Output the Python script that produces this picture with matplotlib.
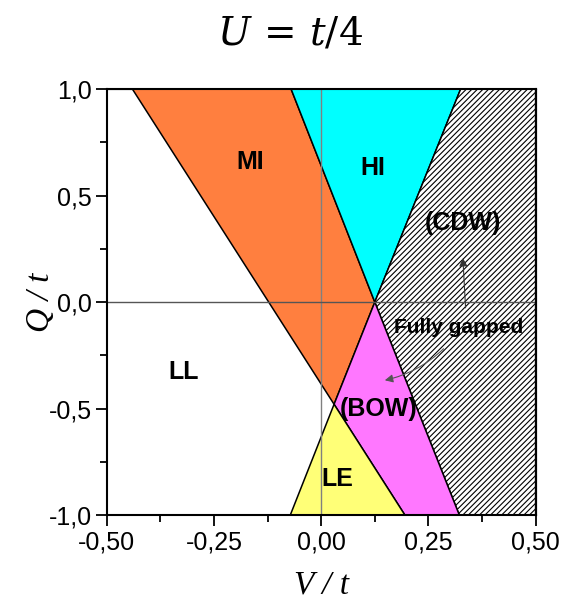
import matplotlib
matplotlib.use("Agg")
import matplotlib.pyplot as plt
from matplotlib.patches import Polygon
from matplotlib.ticker import MultipleLocator, FuncFormatter

plt.rcParams['mathtext.fontset'] = 'dejavuserif'
plt.rcParams['hatch.linewidth'] = 0.8

# phase boundaries (V/t, Q/t)
mi_x = [-0.44, -0.07, 0.125, 0.03]
mi_y = [1.0, 1.0, 0.0, -0.48]
hi_x = [-0.07, 0.325, 0.125]
hi_y = [1.0, 1.0, 0.0]
cdw_x = [0.325, 0.5, 0.5, 0.322, 0.125]
cdw_y = [1.0, 1.0, -1.0, -1.0, 0.0]
bow_x = [0.125, 0.322, 0.195, 0.03]
bow_y = [0.0, -1.0, -1.0, -0.48]
le_x = [0.03, 0.195, -0.072]
le_y = [-0.48, -1.0, -1.0]

labels = ["MI", "HI", "(CDW)", "LL", "(BOW)", "LE"]
label_x = [-0.165, 0.12, 0.33, -0.32, 0.135, 0.037]
label_y = [0.66, 0.63, 0.37, -0.33, -0.50, -0.83]

fig = plt.figure(figsize=(5.68, 6.03), dpi=100)
ax = fig.add_axes([0.188, 0.146, 0.755, 0.706])

regions = [(mi_x, mi_y, "#ff7f3f", None),
           (hi_x, hi_y, "#00ffff", None),
           (cdw_x, cdw_y, "white", "//////"),
           (bow_x, bow_y, "#ff77ff", None),
           (le_x, le_y, "#ffff77", None)]
for xs, ys, col, htch in regions:
    p = Polygon(list(zip(xs, ys)), closed=True, facecolor=col,
                edgecolor="black", linewidth=1.1, hatch=htch, zorder=1)
    ax.add_patch(p)

ax.axvline(0, color="#808080", lw=1.0, zorder=2)
ax.axhline(0, color="#555555", lw=1.0, zorder=2)

for s, x, y in zip(labels, label_x, label_y):
    ax.text(x, y, s, fontsize=18, fontweight="bold", family="Liberation Sans",
            ha="center", va="center", zorder=3)

ax.text(0.32, -0.12, "Fully gapped", fontsize=15, fontweight="bold",
        family="Liberation Sans", ha="center", va="center", zorder=3)
ax.annotate("", xy=(0.33, 0.22), xytext=(0.337, -0.04),
            arrowprops=dict(arrowstyle="-|>", color="#333333", lw=0.8,
                            mutation_scale=12))
ax.annotate("", xy=(0.142, -0.37), xytext=(0.29, -0.21),
            arrowprops=dict(arrowstyle="-|>", color="#555555", lw=0.8,
                            mutation_scale=12, connectionstyle="arc3,rad=-0.15"))

ax.set_xlim(-0.5, 0.5)
ax.set_ylim(-1.0, 1.0)
ax.xaxis.set_major_locator(MultipleLocator(0.25))
ax.xaxis.set_minor_locator(MultipleLocator(0.125))
ax.yaxis.set_major_locator(MultipleLocator(0.5))
ax.yaxis.set_minor_locator(MultipleLocator(0.25))
ax.xaxis.set_major_formatter(FuncFormatter(lambda v, p: ("%.2f" % v).replace(".", ",")))
ax.yaxis.set_major_formatter(FuncFormatter(lambda v, p: ("%.1f" % v).replace(".", ",")))
ax.tick_params(which="major", direction="out", length=8, width=1.3,
               labelsize=18, pad=3)
ax.tick_params(which="minor", direction="out", length=5, width=1.3)
for lab in ax.get_xticklabels() + ax.get_yticklabels():
    lab.set_family("Liberation Sans")
for sp in ax.spines.values():
    sp.set_linewidth(1.5)

# inward ticks on top and right
top = ax.secondary_xaxis("top")
top.xaxis.set_major_locator(MultipleLocator(0.125))
top.tick_params(direction="in", length=5, width=1.3, labeltop=False)
right = ax.secondary_yaxis("right")
right.yaxis.set_major_locator(MultipleLocator(0.25))
right.tick_params(direction="in", length=5, width=1.3, labelright=False)

ax.set_xlabel("V / t", fontsize=24, family="Liberation Serif", style="italic")
ax.set_ylabel("Q / t", fontsize=24, family="Liberation Serif", style="italic")
ax.xaxis.set_label_coords(0.5, -0.13)
ax.yaxis.set_label_coords(-0.118, 0.5)

fig.text(0.51, 0.945, r"$U\,=\,t/4$", fontsize=28, ha="center", va="center")

fig.savefig("out.png", dpi=100)
